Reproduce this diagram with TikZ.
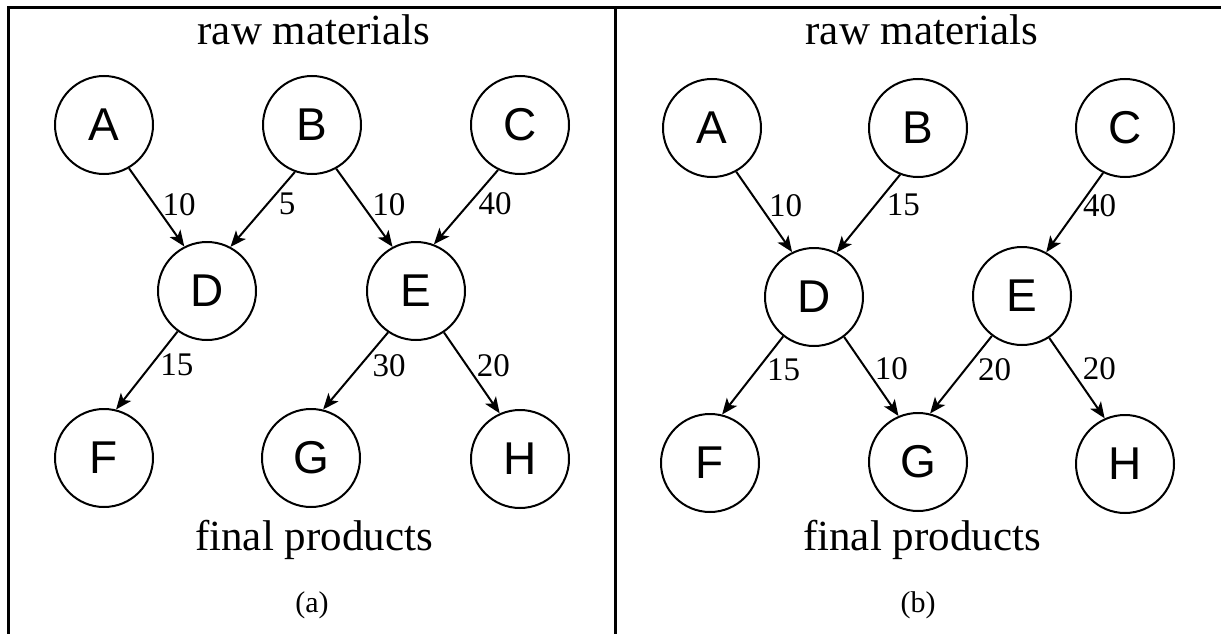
\documentclass[tikz,border=0pt]{standalone}
\usepackage{fontspec}
\setmainfont{Liberation Serif}
\newfontfamily\nodefont{Liberation Sans}
\usetikzlibrary{arrows.meta}
\begin{document}
\begin{tikzpicture}[x=1pt,y=-1pt,
  vert/.style={circle,draw,line width=2pt,minimum size=98pt,inner sep=0pt,font=\nodefont\fontsize{46}{50}\selectfont},
  flow/.style={line width=2pt,-{Stealth[length=16pt,width=13pt,inset=4pt]}},
  lbl/.style={font=\fontsize{33}{36}\selectfont,inner sep=0pt},
  ttl/.style={font=\fontsize{43}{50}\selectfont,anchor=base,inner sep=0pt},
  subcaption/.style={font=\fontsize{30}{34}\selectfont,anchor=base,inner sep=0pt},
  panelframe/.style={line width=3pt}]
\useasboundingbox (0,0) rectangle (1221,634);
% frame
\coordinate (tl) at (8,8);
\coordinate (tr) at (1230,8);
\coordinate (bl) at (8,640);
\coordinate (tm) at (615,8);
\coordinate (bm) at (615,640);
\draw[panelframe] (bl) -- (tl) -- (tr);
\draw[panelframe] (tm) -- (bm);
% panel (a)
\node[ttl] (rawa) at (314,45) {raw materials};
\node[ttl] (fina) at (314,550) {final products};
\node[subcaption] (capa) at (312,612) {(a)};
\node[vert] (aA) at (104,125) {A};
\node[vert] (aB) at (312,125) {B};
\node[vert] (aC) at (520,125) {C};
\node[vert] (aD) at (207,291) {D};
\node[vert] (aE) at (416,291) {E};
\node[vert] (aF) at (104,458) {F};
\node[vert] (aG) at (311,458) {G};
\node[vert] (aH) at (520,459) {H};
\draw[flow] (aA.300) -- node[lbl,xshift=22.5pt,yshift=3pt] (la1) {10} (aD.117);
\draw[flow] (aB.250) -- node[lbl,xshift=24.5pt,yshift=5.5pt] (la2) {5} (aD.62);
\draw[flow] (aB.299) -- node[lbl,xshift=24.5pt,yshift=3pt] (la3) {10} (aE.118);
\draw[flow] (aC.244) -- node[lbl,xshift=29pt,yshift=3.5pt] (la4) {40} (aE.69);
\draw[flow] (aD.234) -- node[lbl,xshift=30pt,yshift=5.5pt] (la5) {15} (aF.76);
\draw[flow] (aE.236) -- node[lbl,xshift=33.5pt,yshift=5.5pt] (la6) {30} (aG.76);
\draw[flow] (aE.304) -- node[lbl,xshift=21.5pt,yshift=7.5pt] (la7) {20} (aH.114);
% panel (b)
\node[ttl] (rawb) at (922,45) {raw materials};
\node[ttl] (finb) at (922,550) {final products};
\node[subcaption] (capb) at (918,612) {(b)};
\node[vert] (bA) at (712,128) {A};
\node[vert] (bB) at (918,128) {B};
\node[vert] (bC) at (1125,128) {C};
\node[vert] (bD) at (814,297) {D};
\node[vert] (bE) at (1022,296) {E};
\node[vert] (bF) at (710,463) {F};
\node[vert] (bG) at (918,462) {G};
\node[vert] (bH) at (1125,464) {H};
\draw[flow] (bA.299) -- node[lbl,xshift=21.5pt,yshift=6pt] (lb1) {10} (bD.116);
\draw[flow] (bB.249) -- node[lbl,xshift=35pt,yshift=8.5pt] (lb2) {15} (bD.63);
\draw[flow] (bC.244) -- node[lbl,xshift=25pt,yshift=6.5pt] (lb3) {40} (bE.61);
\draw[flow] (bD.232) -- node[lbl,xshift=31pt,yshift=6pt] (lb4) {15} (bF.76);
\draw[flow] (bD.307) -- node[lbl,xshift=20pt,yshift=7.5pt] (lb5) {10} (bG.113);
\draw[flow] (bE.233) -- node[lbl,xshift=33.5pt,yshift=5.5pt] (lb6) {20} (bG.76);
\draw[flow] (bE.303) -- node[lbl,xshift=22.5pt,yshift=9pt] (lb7) {20} (bH.114);
\end{tikzpicture}
\end{document}
